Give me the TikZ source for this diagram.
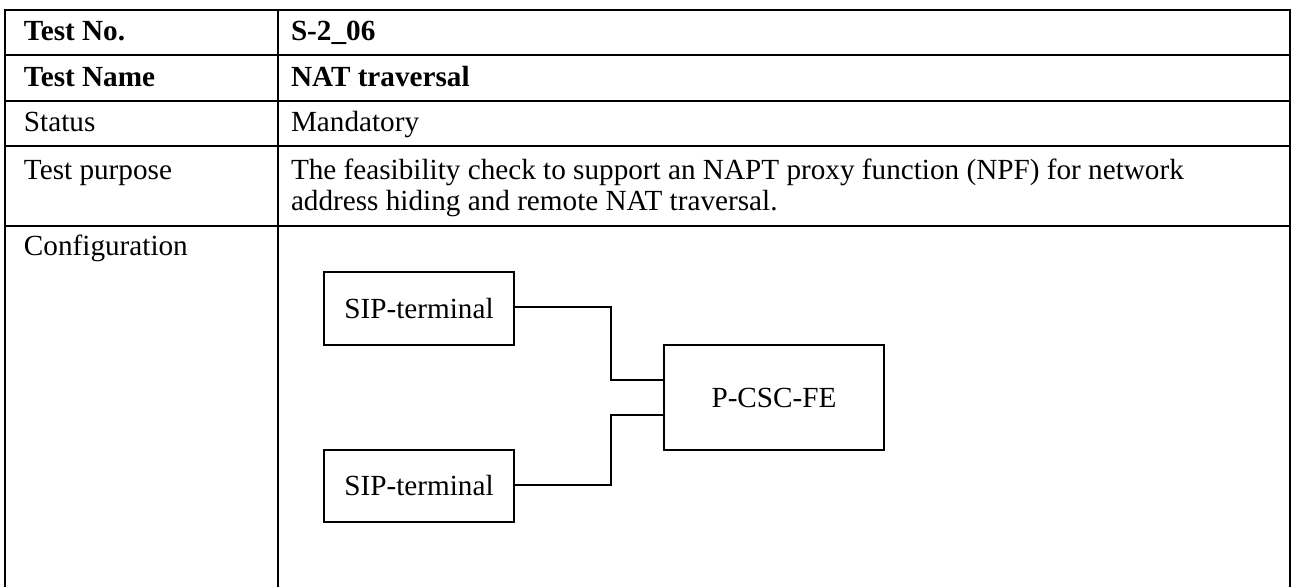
\documentclass[tikz,border=0pt]{standalone}
\usepackage{fontspec}
\setmainfont{Liberation Serif}
\usetikzlibrary{calc}

\begin{document}
\begin{tikzpicture}[x=0.5pt,y=-0.5pt,line width=1pt,
    celltext/.style={anchor=base west,inner sep=0pt,font=\fontsize{14.6}{17}\selectfont},
    unitbox/.style={draw,line width=1pt,inner sep=0pt,font=\fontsize{14.6}{17}\selectfont}]
            % Define the table frame
            \def\xl{5}      % left edge
            \def\xm{278}    % column divider
            \def\xr{1290}   % right edge
            \def\yb{587}    % bottom (cut off)

            \useasboundingbox (0,0) rectangle (1292,587);

            % Calculate the coordinates of the row lines
            \coordinate (R0) at (\xl, 10);
            \coordinate (R1) at (\xl, 55);
            \coordinate (R2) at (\xl, 101);
            \coordinate (R3) at (\xl, 146);
            \coordinate (R4) at (\xl, 226);

            % Draw the table
            \draw (\xl,\yb) -- (R0) -- (\xr,10) -- (\xr,\yb);
            \draw (\xm,10) -- (\xm,\yb);
            \draw (R1) -- (\xr,55);
            \draw (R2) -- (\xr,101);
            \draw (R3) -- (\xr,146);
            \draw (R4) -- (\xr,226);

            % Draw the cell texts
            \node[celltext] (noL) at (23,41) {\textbf{Test No.}};
            \node[celltext] (noR) at (290,41) {\textbf{S-2\_06}};
            \node[celltext] (nameL) at (23,87) {\textbf{Test Name}};
            \node[celltext] (nameR) at (290,87) {\textbf{NAT traversal}};
            \node[celltext] (statL) at (23,132) {Status};
            \node[celltext] (statR) at (290,132) {Mandatory};
            \node[celltext] (purpL) at (23,180) {Test purpose};
            \node[celltext] (purpR1) at (290,180) {The feasibility check to support an NAPT proxy function (NPF) for network};
            \node[celltext] (purpR2) at (290,211) {address hiding and remote NAT traversal.};
            \node[celltext] (confL) at (23,256) {Configuration};

            % Draw the configuration
            \node[unitbox,minimum width=95pt,minimum height=36.5pt] (sipA) at (419,308.5) {SIP-terminal};
            \node[unitbox,minimum width=95pt,minimum height=36pt] (sipB) at (419,486) {SIP-terminal};
            \node[unitbox,minimum width=110pt,minimum height=52.5pt] (pcsc) at (774,397.5) {P-CSC-FE};

            \coordinate (pA) at ($(pcsc.west)+(0,-17.5)$);
            \coordinate (pB) at ($(pcsc.west)+(0,17.5)$);
            \coordinate (jA) at (611,307);
            \coordinate (jB) at (611,485);

            \draw (sipA.east |- jA) -- (jA) |- (pA);
            \draw (sipB.east |- jB) -- (jB) |- (pB);
\end{tikzpicture}
\end{document}
